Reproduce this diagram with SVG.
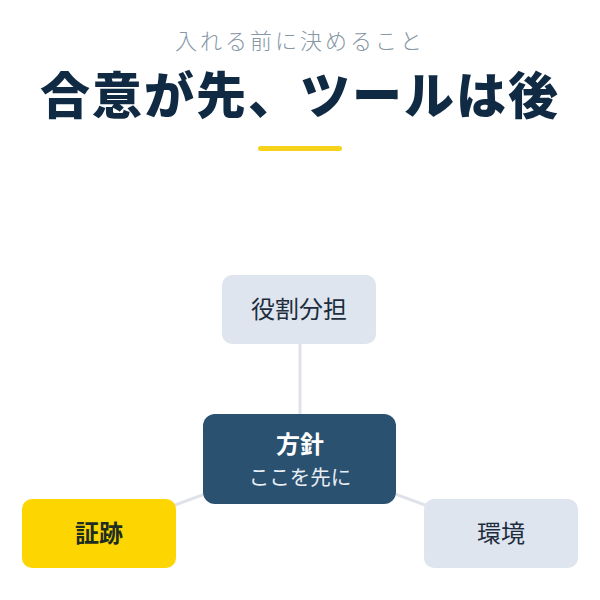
<svg xmlns="http://www.w3.org/2000/svg" width="600" height="600" viewBox="0 0 600 600">
<style>
text{font-family:"Noto Sans CJK JP","Noto Sans",sans-serif;text-anchor:middle}
.sub{font-size:22px;font-weight:300;fill:#8797a6;letter-spacing:3px}
.title{font-size:50px;font-weight:900;fill:#0f2a42;letter-spacing:2px}
.lt{fill:#dfe5ee}
.lbl{font-size:24px;fill:#1d2d3e}
.edge{stroke:#dfe3e9;stroke-width:3;fill:none}
</style>
<rect width="600" height="600" fill="#ffffff"/>
<text class="sub" x="300" y="49">入れる前に決めること</text>
<text class="title" x="300" y="114">合意が先、ツールは後</text>
<rect x="258" y="146" width="84" height="5" rx="2.5" fill="#f7d21a"/>
<g id="connectors">
<line class="edge" x1="300" y1="344" x2="300" y2="414"/>
<line class="edge" x1="300" y1="459" x2="99" y2="533"/>
<line class="edge" x1="300" y1="459" x2="501" y2="533"/>
</g>
<g id="node-role">
<rect class="lt" x="222" y="275" width="154" height="69" rx="10"/>
<text class="lbl" x="299" y="318">役割分担</text>
</g>
<g id="node-policy">
<rect x="203" y="414" width="193" height="90" rx="12" fill="#2b5170"/>
<text x="300" y="453" font-size="24" font-weight="700" fill="#ffffff">方針</text>
<text x="300" y="485" font-size="20.5" fill="#e8eef4">ここを先に</text>
</g>
<g id="node-evidence">
<rect x="22" y="499" width="154" height="69" rx="10" fill="#fdd500"/>
<text x="99" y="542" font-size="24" font-weight="700" fill="#1d2d20">証跡</text>
</g>
<g id="node-env">
<rect class="lt" x="424" y="499" width="154" height="69" rx="10"/>
<text class="lbl" x="501" y="542">環境</text>
</g>
</svg>
